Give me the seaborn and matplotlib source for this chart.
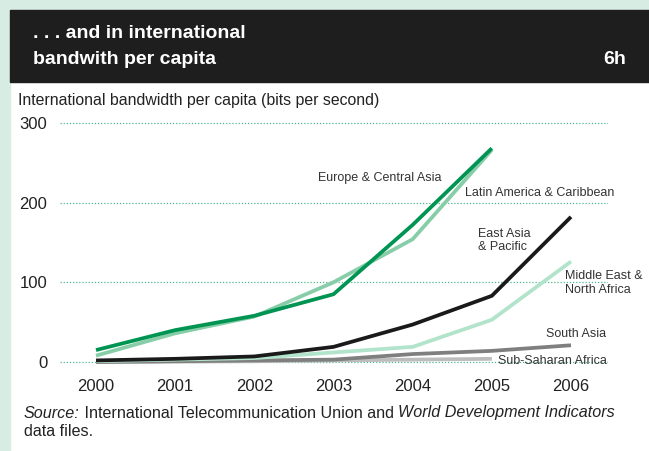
import matplotlib
matplotlib.use("Agg")
import matplotlib.pyplot as plt
import seaborn as sns
import pandas as pd
from matplotlib.patches import Rectangle

years = [2000, 2001, 2002, 2003, 2004, 2005, 2006]
europe = [15, 40, 58, 85, 172, 268, None]
latin = [8, 36, 57, 100, 154, 266, None]
east_asia = [2, 4, 7, 19, 47, 83, 182]
mena = [1, 3, 5, 12, 19, 53, 126]
south_asia = [0, 1, 2, 3, 10, 14, 21]
ssa = [0, 0.5, 1, 2, 3, 4, None]

regions = ["Latin America & Caribbean", "Europe & Central Asia", "Sub-Saharan Africa",
           "South Asia", "Middle East & North Africa", "East Asia & Pacific"]
series = [latin, europe, ssa, south_asia, mena, east_asia]
colors = ["#86cda8", "#009453", "#bdbdbd", "#7f7f7f", "#b2e3cb", "#1a1a1a"]

rows = []
for name, vals in zip(regions, series):
    for y, v in zip(years, vals):
        if v is not None:
            rows.append({"year": y, "region": name, "value": v})
df = pd.DataFrame(rows)

sns.set_style("white")
plt.rcParams['font.family'] = ['Liberation Sans', 'DejaVu Sans']

fig = plt.figure(figsize=(6.49, 4.51), dpi=100)
W, H = 649, 451

# mint frame and dark header
fig.patches.append(Rectangle((0, 0), 10 / W, 1, transform=fig.transFigure, color="#d7ede3", zorder=0))
fig.patches.append(Rectangle((0, 1 - 10 / H), 1, 10 / H, transform=fig.transFigure, color="#d7ede3", zorder=0))
fig.patches.append(Rectangle((10 / W, 1 - 82 / H), 1, 72 / H, transform=fig.transFigure, color="#1e1e1e", zorder=0))

tfont = ['Liberation Sans Narrow', 'Liberation Sans', 'DejaVu Sans']
fig.text(33 / W, 1 - 33 / H, ". . . and in international", color="white", fontsize=14,
         fontweight="bold", family=tfont, va="center")
fig.text(33 / W, 1 - 60 / H, "bandwith per capita", color="white", fontsize=14,
         fontweight="bold", family=tfont, va="center")
fig.text(626 / W, 1 - 60 / H, "6h", color="white", fontsize=14,
         fontweight="bold", family=tfont, va="center", ha="right")

ax = fig.add_axes([60 / W, 1 - 372 / H, 548 / W, (372 - 110) / H])
sns.lineplot(data=df, x="year", y="value", hue="region", hue_order=regions,
             palette=colors, linewidth=2.7, ax=ax, legend=False)
for ln in ax.get_lines():
    ln.set_solid_capstyle("butt")

x0 = 2000 - 36 / 79.17
x1 = 2006 + 37 / 79.17
ax.set_xlim(x0, x1)
ax.set_ylim(-12.5, 316)
ax.set_xticks(years)
ax.set_yticks([0, 100, 200, 300])
ax.tick_params(axis="both", length=0, labelsize=12, colors="#222222")
ax.tick_params(axis="y", pad=9)
ax.tick_params(axis="x", pad=5)
ax.set_xlabel("")
ax.set_ylabel("")
for s in ax.spines.values():
    s.set_visible(False)
for yv in [0, 100, 200, 300]:
    ax.plot([x0, x1], [yv, yv], linestyle=(0, (1, 1.5)), color="#4fb88c",
            linewidth=0.9, zorder=0)
ax.set_facecolor("none")

fig.text(18 / W, 1 - 100 / H, "International bandwidth per capita (bits per second)",
         fontsize=11.4, color="#222222", va="center")

lab = dict(fontsize=9, color="#333333", va="center")
ax.text(2002.80, 231, "Europe & Central Asia", **lab)
ax.text(2004.66, 212, "Latin America & Caribbean", **lab)
ax.text(2004.83, 152, "East Asia\n& Pacific", linespacing=1.15, **lab)
ax.text(2005.92, 99, "Middle East &\nNorth Africa", linespacing=1.15, **lab)
ax.text(2005.68, 35, "South Asia", **lab)
ax.text(2005.08, 1.5, "Sub-Saharan Africa", **lab)

# source note, mixed italic / roman pieces placed one after another
renderer = fig.canvas.get_renderer()
pieces = [("Source:", "italic"), (" International Telecommunication Union and ", "normal"),
          ("World Development Indicators", "italic")]
xpix = 24
for txt, st in pieces:
    t = fig.text(xpix / W, 1 - 413 / H, txt, fontsize=11.6, style=st, color="#222222", va="center")
    xpix += t.get_window_extent(renderer).width
fig.text(24 / W, 1 - 432 / H, "data files.", fontsize=11.6, color="#222222", va="center")

fig.savefig("out.png", dpi=100, facecolor="white")
